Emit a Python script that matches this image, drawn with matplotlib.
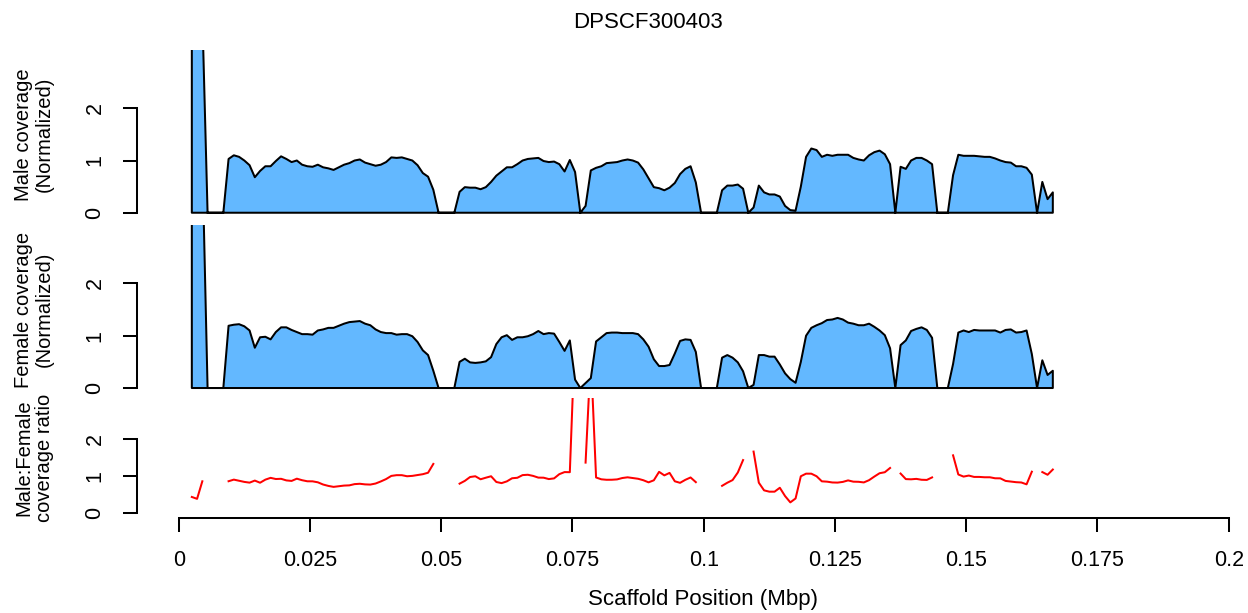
import numpy as np
import matplotlib
matplotlib.use("Agg")
import matplotlib.pyplot as plt

plt.rcParams['font.family'] = ['Liberation Sans', 'DejaVu Sans']

# ---------------- data ----------------
title = "DPSCF300403"
window_start_mbp = 0.0025   # first window centre (Mbp)
window_size_mbp = 0.001     # 1 kb windows

male = [8.5, 6.0, 3.8, 0, 0, 0, 0,
        1.03, 1.10, 1.07, 1.00, 0.91, 0.68, 0.80, 0.89, 0.89, 0.99,
        1.08, 1.03, 0.97, 1.00, 0.92, 0.89, 0.88, 0.92, 0.87, 0.85,
        0.82, 0.87, 0.92, 0.95, 1.00, 1.02, 0.96, 0.93, 0.90, 0.92,
        0.97, 1.06, 1.05, 1.06, 1.03, 1.00, 0.91, 0.76, 0.69, 0.44,
        0, 0, 0, 0,
        0.40, 0.49, 0.48, 0.48, 0.45, 0.49, 0.59, 0.71, 0.79, 0.87,
        0.87, 0.93, 1.00, 1.03, 1.04, 1.05, 0.99, 0.97, 0.98, 0.93,
        0.79, 1.01, 0.78, 0, 0.13, 0.81, 0.86, 0.89, 0.95, 0.96,
        0.97, 1.00, 1.02, 1.00, 0.96, 0.83, 0.66, 0.49, 0.47, 0.43,
        0.48, 0.57, 0.74, 0.84, 0.89, 0.58,
        0, 0, 0, 0,
        0.43, 0.52, 0.52, 0.54, 0.46, 0, 0.10, 0.52, 0.39, 0.35,
        0.35, 0.31, 0.13, 0.05, 0.04, 0.50, 1.07, 1.23, 1.20, 1.07,
        1.11, 1.09, 1.11, 1.11, 1.11, 1.05, 1.02, 1.00, 1.10, 1.16,
        1.19, 1.12, 0.93, 0, 0.88, 0.84, 1.00, 1.05, 1.05, 1.00,
        0.93, 0, 0, 0,
        0.72, 1.11, 1.09, 1.09, 1.09, 1.08, 1.07, 1.07, 1.04, 1.00,
        0.97, 0.96, 0.89, 0.89, 0.86, 0.73, 0, 0.59, 0.26, 0.39]

female = [19.3, 15.4, 4.4, 0, 0, 0, 0,
          1.19, 1.21, 1.22, 1.18, 1.10, 0.77, 0.97, 0.98, 0.93, 1.07,
          1.16, 1.16, 1.11, 1.07, 1.03, 1.03, 1.02, 1.10, 1.12, 1.15,
          1.15, 1.19, 1.23, 1.26, 1.27, 1.28, 1.23, 1.20, 1.12, 1.07,
          1.05, 1.05, 1.02, 1.03, 1.03, 0.99, 0.88, 0.72, 0.63, 0.33,
          0, 0, 0, 0,
          0.50, 0.56, 0.49, 0.48, 0.49, 0.51, 0.59, 0.84, 0.97, 1.01,
          0.92, 0.97, 0.97, 0.99, 1.03, 1.09, 1.03, 1.05, 1.04, 0.88,
          0.71, 0.91, 0.16, 0, 0.095, 0.19, 0.89, 0.97, 1.05, 1.06,
          1.06, 1.05, 1.05, 1.05, 1.03, 0.93, 0.79, 0.55, 0.42, 0.42,
          0.44, 0.66, 0.90, 0.93, 0.92, 0.69,
          0, 0, 0, 0,
          0.58, 0.63, 0.58, 0.49, 0.32, 0, 0.06, 0.63, 0.63, 0.60,
          0.60, 0.45, 0.28, 0.17, 0.10, 0.50, 1.00, 1.15, 1.20, 1.24,
          1.30, 1.31, 1.34, 1.31, 1.25, 1.23, 1.20, 1.20, 1.23, 1.17,
          1.10, 1.01, 0.76, 0, 0.82, 0.91, 1.09, 1.13, 1.16, 1.11,
          0.96, 0, 0, 0,
          0.46, 1.06, 1.10, 1.07, 1.11, 1.10, 1.10, 1.10, 1.10, 1.06,
          1.11, 1.12, 1.06, 1.07, 1.10, 0.65, 0, 0.53, 0.25, 0.33]

x_ticks = [0, 0.025, 0.05, 0.075, 0.1, 0.125, 0.15, 0.175, 0.2]
x_tick_labels = ["0", "0.025", "0.05", "0.075", "0.1", "0.125", "0.15", "0.175", "0.2"]
y_ticks = [0, 1, 2]
y_tick_labels = ["0", "1", "2"]
panel_labels = ["Male coverage\n(Normalized)",
                "Female coverage\n(Normalized)",
                "Male:Female\ncoverage ratio"]
x_label = "Scaffold Position (Mbp)"

# ---------------- derived ----------------
pos = window_start_mbp + window_size_mbp * np.arange(len(male))
m = np.asarray(male, float)
f = np.asarray(female, float)
valid = (m > 0) & (f > 0)
ratio = np.full_like(m, np.nan)
ratio[valid] = m[valid] / f[valid]

# ---------------- figure ----------------
W, H = 1248, 613
fig = plt.figure(figsize=(W / 100, H / 100), dpi=100)
fill_col = "#63B8FF"
LW = 1.45
FS_TICK = 15.5
FS_YLAB = 14.5
FS_MAIN = 16

left_px, right_px = 136.7, 1270.7
panels_px = [(49.8, 219.0), (224.8, 394.3), (397.8, 517.7)]


def make_ax(top_px, bot_px):
    ax = fig.add_axes([left_px / W, 1 - bot_px / H,
                       (right_px - left_px) / W, (bot_px - top_px) / H])
    ax.set_xlim(-0.008, 0.208)
    ax.set_ylim(-0.12, 3.12)
    ax.patch.set_alpha(0)
    for s in ["top", "right", "bottom"]:
        ax.spines[s].set_visible(False)
    ax.spines["left"].set_bounds(0, 2)
    ax.spines["left"].set_linewidth(LW)
    ax.set_yticks(y_ticks)
    ax.set_yticklabels(y_tick_labels)
    ax.tick_params(axis="y", direction="out", length=10, width=LW,
                   labelsize=FS_TICK, pad=20)
    plt.setp(ax.get_yticklabels(), rotation=90, va="center", ha="center")
    ax.set_xticks([])
    return ax


axes = [make_ax(*p) for p in panels_px]

for ax, cov in zip(axes[:2], [m, f]):
    px = np.concatenate([[pos[0]], pos, [pos[-1]]])
    py = np.concatenate([[0], cov, [0]])
    ax.fill(px, py, facecolor=fill_col, edgecolor="black", linewidth=LW,
            joinstyle="round")

ax3 = axes[2]
ax3.plot(pos, ratio, color="red", linewidth=LW)
ax3.spines["bottom"].set_visible(True)
ax3.spines["bottom"].set_bounds(0, 0.2)
ax3.spines["bottom"].set_linewidth(LW)
ax3.set_xticks(x_ticks)
ax3.set_xticklabels(x_tick_labels)
ax3.tick_params(axis="x", direction="out", length=10, width=LW,
                labelsize=FS_TICK, pad=13)

for (t, b), lab in zip(panels_px, panel_labels):
    fig.text(34 / W, 1 - ((t + b) / 2) / H, lab, rotation=90, ha="center",
             va="center", ma="center", fontsize=FS_YLAB, linespacing=1.08)

fig.text(703 / W, 1 - 600 / H, x_label, ha="center", va="center", fontsize=FS_MAIN)
fig.text(648 / W, 1 - 22 / H, title, ha="center", va="center", fontsize=FS_MAIN)

fig.savefig("out.png", dpi=100)
